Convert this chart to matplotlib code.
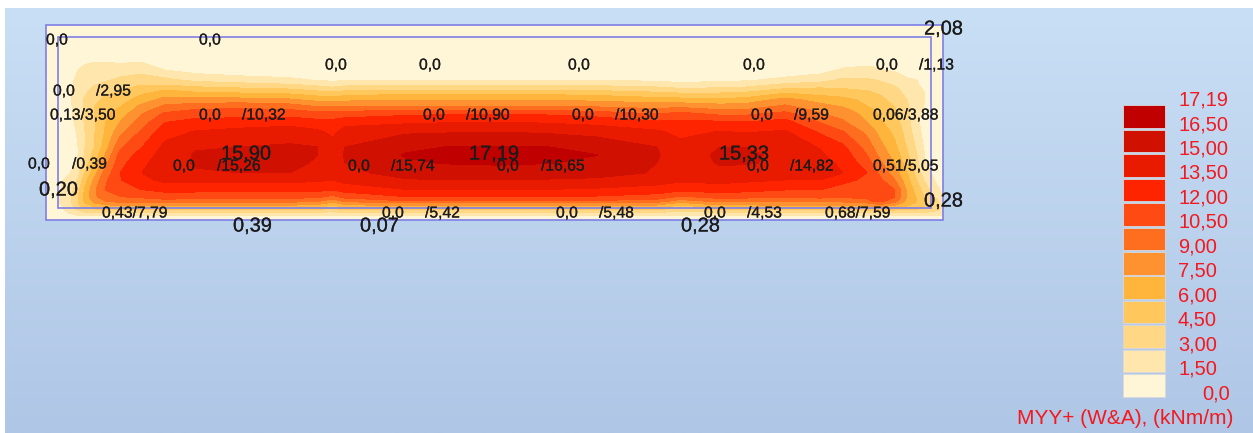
"""
MYY+ (W&A) plate moment contour, read off a screenshot.
Axes run in screenshot pixels so the labels land where the reference has them.
"""

import matplotlib
matplotlib.use("Agg")
import matplotlib.patheffects as pe
import matplotlib.pyplot as plt
import numpy as np
from matplotlib.colors import BoundaryNorm, ListedColormap, LinearSegmentedColormap
from matplotlib.patches import Rectangle

# ── Data ──────────────────────────────────────────────────────────────────────
LEVELS = [0.0, 1.5, 3.0, 4.5, 6.0, 7.5, 9.0, 10.5, 12.0, 13.5, 15.0, 16.5, 17.19]
LEVEL_LABELS = ["0,0", "1,50", "3,00", "4,50", "6,00", "7,50", "9,00",
                "10,50", "12,00", "13,50", "15,00", "16,50", "17,19"]
BAND_COLORS = ["#fff6d8", "#ffe6ad", "#ffd785", "#ffc75c", "#ffb43c", "#ff9230",
               "#ff6e1e", "#ff4a14", "#ff2400", "#e81a00", "#d01000", "#c00000"]

grid_x = [46, 62, 70, 78, 85, 95, 105, 120, 140, 165, 195, 240, 290, 318, 333, 345, 405, 450,
          500, 550, 597, 657, 680, 720, 745, 785, 820, 843, 867, 880, 895, 908, 917, 925, 935, 943]
grid_y = [25, 62, 70, 80, 85, 90, 94, 100, 106, 110, 114, 122, 132, 147, 155, 163, 173,
          180, 190, 197, 201, 203, 206, 208, 210, 213, 216, 220]

# one row per grid_x, one value per grid_y (kNm/m)
moment_by_col = [
    [.1, .1, .2, .2, .3, .3, .3, .3, .3, .3, .3, .3, .3, .3, .3, .3, .3, .4, .5, .6, .8, .9, .9, .9, .9, .8, .6, .4],
    [.1, .2, .4, .6, .7, .8, .8, .8, .8, .8, .8, .8, .8, .8, .9, 1, 1.3, 1.4, 1.6, 1.7, 1.6, 1.6, 1.5, 1.4, 1.3, 1.1, .8, .4],
    [.1, .4, .9, 1.1, 1.2, 1.3, 1.3, 1.3, 1.3, 1.3, 1.3, 1.2, 1.1, 1, 1, 1.1, 1.5, 1.9, 2.3, 2.6, 2.7, 2.6, 2.4, 2.2, 2, 1.6, 1, .5],
    [.1, .9, 1.5, 1.9, 2, 2.1, 2.2, 2.2, 2.1, 2, 1.9, 1.8, 1.6, 1.5, 1.5, 1.7, 2.5, 3.2, 4, 4.5, 4.5, 4.4, 4, 3.6, 3.1, 2.3, 1.3, .5],
    [.1, 1.4, 1.7, 2.1, 2.4, 2.7, 2.9, 3.2, 3.3, 3.3, 3.3, 3.2, 3, 3, 3.2, 3.6, 4.6, 5.4, 6.2, 6.5, 6.2, 6, 5.3, 4.6, 3.8, 2.7, 1.4, .5],
    [.1, 1.5, 1.9, 2.5, 3, 3.4, 3.7, 4.1, 4.5, 4.6, 4.6, 4.5, 4.5, 4.6, 5.2, 6, 7.1, 8, 8.8, 8.7, 8, 7.5, 6.2, 5, 4, 2.8, 1.5, .6],
    [.1, 1.5, 2, 2.8, 3.4, 3.9, 4.3, 4.9, 5.4, 5.6, 5.8, 5.9, 6.1, 6.7, 7.5, 8.4, 9.5, 10.2, 10.5, 10, 9, 8.3, 6.8, 5.5, 4.2, 3, 1.5, .6],
    [.1, 1.3, 2.3, 3.3, 3.9, 4.4, 4.8, 5.3, 5.9, 6.2, 6.8, 7.5, 8.5, 10.2, 11, 11.5, 12, 11.9, 11.2, 10.4, 9.5, 8.8, 7.4, 6, 4.5, 3, 1.5, .6],
    [.1, 1.5, 2.5, 3.7, 4.5, 5.2, 5.8, 6.6, 7.7, 8.2, 8.8, 9.6, 10.6, 11.8, 12.5, 13, 13.4, 13, 11.9, 10.7, 9.6, 8.8, 7.4, 6, 4.5, 3, 1.5, .6],
    [.1, 1, 1.5, 3.4, 4.5, 6, 6.9, 8.1, 9.2, 10, 10.8, 11.9, 12.9, 13.9, 14.2, 14.5, 14.6, 13.9, 12.4, 11.1, 10, 9, 7.5, 6, 4.5, 3, 1.5, .6],
    [.1, .4, .9, 2.6, 4, 5.4, 6.5, 8.1, 9.7, 10.6, 11.2, 12.6, 13.6, 14.9, 15.1, 15.1, 14.9, 13.9, 12.4, 11, 9.8, 8.9, 7.4, 5.9, 4.5, 3, 1.5, .6],
    [.1, .2, .5, 2.2, 3.6, 5.1, 6.3, 8.1, 10, 10.8, 11.4, 12.7, 14, 15, 15.8, 15.7, 15, 13.9, 12.4, 10.9, 9.5, 8.5, 7, 5.8, 4.5, 3, 1.5, .6],
    [.1, .2, .5, 1.8, 3.2, 4.8, 6, 7.8, 9.6, 10.6, 11.4, 12.9, 14.3, 15.2, 15.9, 15.6, 15, 13.9, 12.4, 11, 9.6, 8.6, 7.1, 5.8, 4.4, 2.9, 1.5, .6],
    [.1, .2, .4, 1.4, 2.7, 4.2, 5.4, 7.1, 8.8, 10, 11, 12.5, 13.8, 15, 15, 14.7, 14.3, 13.7, 12.3, 10.7, 9.2, 8.2, 6.6, 5.4, 4.1, 2.7, 1.3, .6],
    [.1, .2, .4, 1.2, 2.3, 3.9, 5.2, 7, 8.8, 10, 11.2, 12.4, 13.1, 14.2, 14.4, 14.4, 14.2, 13.5, 12, 10, 8, 7.1, 5.6, 4.7, 3.7, 2.5, 1.2, .5],
    [.1, .2, .4, 1.4, 2.7, 4.2, 5.5, 7.2, 8.9, 10.2, 11.2, 12.9, 14.2, 15, 15.1, 15, 14.7, 14, 12.5, 10.9, 9.4, 8.3, 6.8, 5.6, 4.3, 2.9, 1.4, .6],
    [.1, .3, .5, 1.5, 3, 4.5, 5.9, 7.4, 8.9, 10.3, 11.7, 13.2, 14.8, 16.2, 16.6, 16.3, 15.4, 14.9, 13.4, 11.9, 10.4, 8.9, 7.4, 5.9, 4.4, 2.9, 1.5, .6],
    [.1, .3, .6, 1.5, 3, 4.5, 6, 7.5, 9, 10.4, 11.9, 13.4, 14.9, 16.55, 16.95, 16.6, 15.6, 15, 13.5, 12, 10.5, 9, 7.5, 6, 4.5, 3, 1.5, .6],
    [.1, .3, .6, 1.5, 3, 4.5, 6, 7.5, 9, 10.5, 12, 13.5, 15, 16.6, 17.19, 16.7, 15.8, 15, 13.5, 12, 10.5, 9, 7.5, 6, 4.5, 3, 1.5, .6],
    [.1, .3, .5, 1.4, 2.9, 4.4, 5.8, 7.4, 8.9, 10.3, 11.8, 13.3, 14.8, 16.5, 16.9, 16.55, 15.6, 14.9, 13.4, 11.9, 10.4, 8.9, 7.4, 5.9, 4.4, 3, 1.5, .6],
    [.1, .3, .5, 1.4, 2.8, 4.3, 5.6, 7.2, 8.7, 10, 11.4, 13, 14.5, 16, 16.52, 16.2, 15.4, 14.8, 13.2, 11.8, 10.3, 8.8, 7.3, 5.8, 4.3, 2.9, 1.4, .6],
    [.1, .2, .4, 1.2, 2.4, 3.9, 5, 6.7, 8.3, 9.4, 10.5, 12.2, 13.8, 15, 15.1, 15, 14.9, 14.2, 12.8, 11.3, 9.8, 8.5, 7, 5.6, 4.2, 2.8, 1.3, .6],
    [.1, .2, .4, 1, 2, 3.5, 4.8, 6.6, 8.5, 9.8, 11, 12.3, 13, 14.1, 14.4, 14.4, 14.3, 13.8, 12.3, 10.2, 8.3, 7.2, 5.5, 4.4, 3.4, 2.3, 1.1, .5],
    [.1, .2, .4, 1.2, 2.2, 3.6, 4.8, 6.4, 8, 9.1, 10.2, 12.2, 13.6, 15, 15.2, 15.1, 14.7, 14, 12.6, 11, 9.5, 8.5, 7, 5.6, 4.2, 2.8, 1.4, .6],
    [.1, .2, .4, 1.3, 2.4, 3.8, 5, 6.6, 8.1, 9.1, 10.2, 12, 13.4, 15, 15.33, 15.1, 14.5, 13.8, 12.4, 10.9, 9.4, 8.4, 6.9, 5.6, 4.2, 2.8, 1.4, .6],
    [.1, .2, .5, 1.9, 3.4, 4.9, 6.2, 8.1, 9.2, 10.1, 11, 12.5, 13.7, 14.4, 14.6, 14.8, 14.4, 13.5, 12, 10.5, 9.3, 8.7, 7.2, 5.8, 4.4, 2.9, 1.4, .6],
    [.1, .4, .9, 2.4, 3.8, 5, 5.7, 6.9, 8, 8.6, 9.1, 10.4, 11.8, 13.4, 13.7, 14, 14.2, 13.5, 12, 10.9, 9.4, 8.6, 7.1, 5.7, 4.3, 2.8, 1.4, .6],
    [.1, .9, 1.7, 3.3, 4, 4.7, 5.4, 6.5, 7.3, 8, 8.5, 9.2, 10.6, 12.3, 12.8, 13.2, 13.5, 12.5, 11.2, 10.6, 9.3, 8.7, 7.2, 5.8, 4.4, 2.9, 1.4, .6],
    [.1, 1.2, 1.8, 3.2, 3.7, 4.4, 5, 5.6, 6, 6.5, 6.9, 7.5, 8.6, 9.9, 10.5, 11.2, 12, 11.6, 11.1, 10.8, 10.2, 9, 7.5, 6, 4.5, 3, 1.5, .6],
    [.1, 1.2, 1.6, 2.9, 3.4, 3.9, 4.4, 4.9, 5.3, 5.6, 5.8, 6.2, 7, 8, 8.6, 9.3, 10.2, 10.8, 12, 11.8, 11, 10, 8, 6.4, 4.6, 3, 1.5, .6],
    [.1, .9, 1.3, 2.4, 2.9, 3.3, 3.6, 4, 4.4, 4.6, 4.8, 5.1, 5.6, 6.3, 6.8, 7.3, 8.2, 9, 10.5, 10.5, 9.5, 8.6, 7, 5.8, 4.5, 3, 1.5, .6],
    [.1, .5, 1.1, 1.6, 2, 2.4, 2.6, 2.9, 3.1, 3.2, 3.2, 3.4, 3.7, 4.2, 4.6, 5.1, 5.8, 6.3, 7, 7.1, 6.9, 6.5, 5.9, 5.2, 4.3, 3, 1.5, .6],
    [.1, .2, .6, 1.5, 1.6, 1.8, 1.9, 2, 2, 1.9, 1.8, 1.7, 2, 2.7, 3, 3.3, 3.9, 4.4, 5.3, 5.8, 6, 5.8, 5.4, 4.9, 4.2, 3, 1.5, .6],
    [.1, .1, .3, .9, 1.2, 1.4, 1.5, 1.5, 1.4, 1.2, 1.1, 1, 1, 1.2, 1.4, 1.6, 2.1, 2.8, 3.7, 4.3, 4.6, 4.6, 4.4, 4.2, 3.8, 2.8, 1.5, .6],
    [.1, .1, .2, .3, .5, .6, .8, .8, .8, .7, .6, .6, .6, .7, .8, .9, 1.1, 1.4, 2.2, 3, 3.5, 3.6, 3.6, 3.5, 3.3, 2.6, 1.4, .5],
    [.1, .1, .1, .2, .2, .2, .3, .3, .3, .3, .3, .3, .3, .3, .3, .3, .4, .6, 1, 1.6, 2.1, 2.4, 2.6, 2.7, 2.7, 2.3, 1.2, .4],
]

# (left x, centre y, text)
small_labels = [
    (46, 40, "0,0"), (199, 40, "0,0"), (325, 65, "0,0"), (419, 65, "0,0"),
    (568, 65, "0,0"), (743, 65, "0,0"), (876, 65, "0,0"), (919, 65, "/1,13"),
    (53, 91, "0,0"), (96, 91, "/2,95"),
    (50, 115, "0,13/3,50"), (199, 115, "0,0"), (242, 115, "/10,32"),
    (423, 115, "0,0"), (466, 115, "/10,90"), (572, 115, "0,0"), (615, 115, "/10,30"),
    (751, 115, "0,0"), (794, 115, "/9,59"), (873, 115, "0,06/3,88"),
    (28, 164, "0,0"), (72, 164, "/0,39"),
    (173, 166, "0,0"), (217, 166, "/15,26"), (348, 166, "0,0"), (391, 166, "/15,74"),
    (497, 166, "0,0"), (541, 166, "/16,65"), (747, 166, "0,0"), (790, 166, "/14,82"),
    (873, 166, "0,51/5,05"),
    (102, 213, "0,43/7,79"), (382, 213, "0,0"), (425, 213, "/5,42"),
    (556, 213, "0,0"), (599, 213, "/5,48"), (704, 213, "0,0"), (747, 213, "/4,53"),
    (825, 213, "0,68/7,59"),
]
big_labels = [
    (39, 190, "0,20"), (221, 154, "15,90"), (469, 154, "17,19"), (719, 154, "15,33"),
    (924, 29, "2,08"), (924, 201, "0,28"),
    (233, 226, "0,39"), (360, 226, "0,07"), (681, 226, "0,28"),
]

# ── Style ─────────────────────────────────────────────────────────────────────
W, H = 1253, 433
plt.rcParams["font.family"] = ["Liberation Sans", "DejaVu Sans"]
OUTLINE = "#7f7fe6"
TEXT_DARK = "#1c1c1c"
TEXT_RED = "#f5181e"

fig = plt.figure(figsize=(W / 100, H / 100), dpi=100)
ax = fig.add_axes([0, 0, 1, 1])
ax.set_xlim(0, W)
ax.set_ylim(H, 0)
ax.axis("off")

# ── Background ────────────────────────────────────────────────────────────────
bg = LinearSegmentedColormap.from_list("bg", ["#c9dff5", "#afc6e6"])
ax.imshow(np.linspace(0, 1, 256).reshape(-1, 1), cmap=bg, aspect="auto",
          extent=(5, W, H, 8), zorder=0)
ax.set_xlim(0, W)
ax.set_ylim(H, 0)

# ── Contour field ─────────────────────────────────────────────────────────────
cmap = ListedColormap(BAND_COLORS)
norm = BoundaryNorm(LEVELS, cmap.N)
Z = np.array(moment_by_col).T
ax.contourf(grid_x, grid_y, Z, levels=LEVELS, cmap=cmap, norm=norm, zorder=1)

# plate outlines
ax.add_patch(Rectangle((46, 25), 897, 195, fill=False, ec=OUTLINE, lw=1.2, zorder=2))
ax.add_patch(Rectangle((58, 37), 873, 171, fill=False, ec=OUTLINE, lw=1.2, zorder=2))

# the labels look a touch heavier in the screenshot
heavier = [pe.withStroke(linewidth=0.15, foreground=TEXT_DARK)]
for x, y, s in small_labels:
    ax.text(x, y, s, fontsize=11.3, color=TEXT_DARK, ha="left", va="center", zorder=3,
            path_effects=heavier)
for x, y, s in big_labels:
    ax.text(x, y, s, fontsize=14.4, color=TEXT_DARK, ha="left", va="center", zorder=3,
            path_effects=heavier)

# ── Legend ────────────────────────────────────────────────────────────────────
swatch_h = 22.6
swatch_step = 24.45
legend_bottom = 396.8
for i, c in enumerate(BAND_COLORS):
    ax.add_patch(Rectangle((1122.7, legend_bottom - swatch_step * i - swatch_h),
                           41.8, swatch_h, fc=c, ec="#d8d8dc", lw=0.6, zorder=2))
for i, s in enumerate(LEVEL_LABELS):
    y = 393.5 - swatch_step * i
    if i == 0:
        ax.text(1230, y, s, fontsize=14.4, color=TEXT_RED, ha="right", va="center", zorder=3)
    else:
        ax.text(1178, y, s, fontsize=14.4, color=TEXT_RED, ha="left", va="center", zorder=3)
ax.text(1017, 418, "MYY+ (W&A), (kNm/m)", fontsize=15, color=TEXT_RED,
        ha="left", va="center", zorder=3)

fig.savefig("out.png", dpi=100)
plt.close(fig)
